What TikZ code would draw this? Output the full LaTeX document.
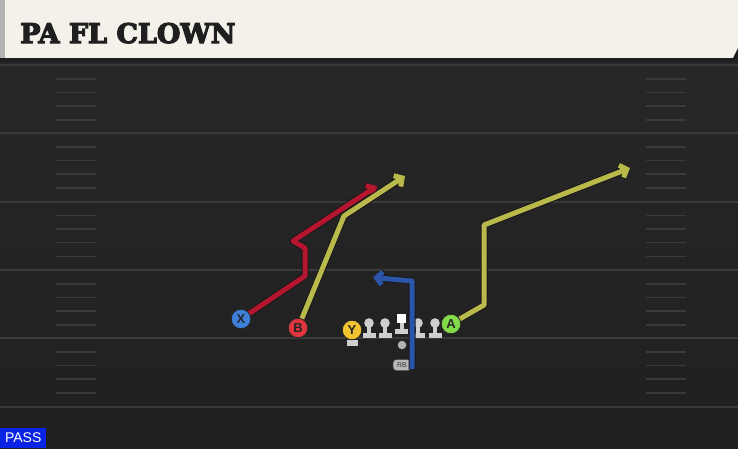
\documentclass[tikz,border=0pt]{standalone}
\usepackage{fontspec}
\setmainfont{Liberation Sans}
\newfontfamily\titlefont{DejaVu Serif}
\usetikzlibrary{arrows.meta}
\definecolor{cream}{HTML}{F3F1EA}
\definecolor{fieldtop}{HTML}{282828}
\definecolor{fieldbot}{HTML}{202020}
\definecolor{yardcol}{HTML}{3A3A3A}
\definecolor{hashcol}{HTML}{3A3A3A}
\definecolor{redroute}{HTML}{B3162E}
\definecolor{yelroute}{HTML}{B9B94C}
\definecolor{bluroute}{HTML}{2B55A8}
\definecolor{xfill}{HTML}{3D7FD9}
\definecolor{bfill}{HTML}{E0353D}
\definecolor{yfill}{HTML}{F2C530}
\definecolor{afill}{HTML}{84DB4A}
\definecolor{passblue}{HTML}{0A24E6}
\definecolor{linegray}{HTML}{CFCFCF}
\tikzset{
  yardline/.style={draw=yardcol, line width=2pt},
  hashmark/.style={draw=hashcol, line width=1.4pt},
  routeout/.style={draw=black!90, line width=7pt, line join=round},
  routein/.style={line width=5pt, line join=round},
  tipr/.style={-{Straight Barb[length=6pt,width=13pt]}},
  player/.style={circle, draw=black!85, line width=0.8pt, minimum size=19.5pt, inner sep=0pt, font=\bfseries\fontsize{13}{13}\selectfont, text=black!85},
  lineman/.pic={
    \fill[linegray] (-6.5,9.5) rectangle (6.5,15);
    \fill[linegray] (-2,0) rectangle (2,10);
    \fill[linegray] (0,0) circle (4.8pt);
  },
}
\begin{document}
\begin{tikzpicture}[x=1pt,y=-1pt]
\useasboundingbox (0,0) rectangle (738,448);
% field
\shade[top color=fieldtop, bottom color=fieldbot] (0,0) rectangle (738,448);
\fill[black!88] (0,56) rectangle (738,62);
% yard lines
\foreach \y in {65,133,201.5,270,338,407} {
  \draw[yardline] (0,\y) -- (738,\y);
}
% hash marks
\foreach \y in {65,133,201.5,270,338} {
  \foreach \d in {14,27.5,41,55} {
    \draw[hashmark] (56,\y+\d) -- (96,\y+\d);
    \draw[hashmark] (646,\y+\d) -- (686,\y+\d);
  }
}
% header
\fill[cream] (0,0) rectangle (738,58);
\fill[black!88] (733,58) -- (738,48) -- (738,58) -- cycle;
\fill[gray!60] (0,0) rectangle (5,58);
\node[anchor=base west, inner sep=0pt, font=\titlefont\bfseries\fontsize{27}{27}\selectfont, text=black!88] (title) at (20,43) {\special{pdf:literal direct 2 Tr 1.2 w}PA FL CLOWN\special{pdf:literal direct 0 Tr}};
% players
\node[player, fill=xfill] (X) at (241,319) {X};
\node[player, fill=bfill] (B) at (298,328) {B};
\node[player, fill=afill] (A) at (451,324) {A};
\fill[linegray] (346.5,340) rectangle (357.5,345.5);
\fill[linegray] (350,334) rectangle (354,341);
\node[player, fill=yfill] (Y) at (352,330) {Y};
\pic at (369,323) {lineman};
\pic at (385,323) {lineman};
\pic at (418,323) {lineman};
\pic at (435,323) {lineman};
\fill[linegray] (395,328.5) rectangle (408,334);
\fill[linegray] (399.5,321) rectangle (403.5,330);
\node[fill=white, minimum size=9pt, inner sep=0pt] (C) at (401.5,318) {};
\node[circle, fill=gray!60, minimum size=8.5pt, inner sep=0pt] (QB) at (402,345) {};
\node[fill=gray!55, draw=black!70, line width=0.5pt, rounded corners=3.5pt, minimum width=18pt, minimum height=11pt, inner sep=0pt, font=\fontsize{7}{7}\selectfont, text=black!80] (RB) at (402,365) {RB};
\coordinate (rbstart) at (412,369);
\coordinate (rbtip) at (373,277.5);
% routes
\draw[routeout, tipr] (X) -- (305,276) -- (305,248) -- (293,241) -- (377,186);
\draw[routein, tipr, draw=redroute] (X) -- (305,276) -- (305,248) -- (293,241) -- (377,186);
\draw[routeout, tipr] (B) -- (344,216) -- (405,176);
\draw[routein, tipr, draw=yelroute] (B) -- (344,216) -- (405,176);
\draw[routeout, tipr] (A) -- (484,305) -- (484,225) -- (630,168);
\draw[routein, tipr, draw=yelroute] (A) -- (484,305) -- (484,225) -- (630,168);
\draw[routeout, tipr] (rbstart) -- (412,281) -- (rbtip);
\draw[routein, tipr, draw=bluroute] (rbstart) -- (412,281) -- (rbtip);
% pass label
\node[fill=passblue, text=white, anchor=south west, minimum width=46pt, minimum height=20pt, inner sep=0pt, font=\fontsize{14}{14}\selectfont] (pass) at (0,448) {PASS};
\end{tikzpicture}
\end{document}
